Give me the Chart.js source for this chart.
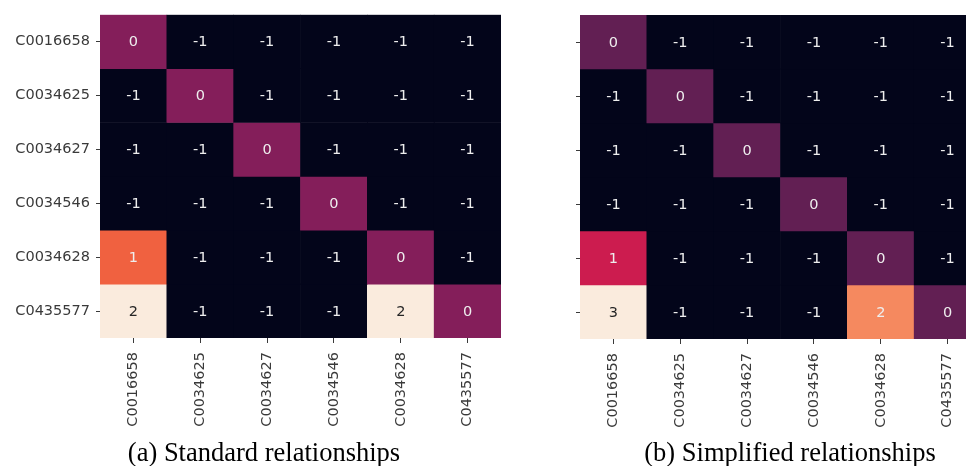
<!DOCTYPE html>
<html>
<head>
<meta charset="utf-8">
<script src="https://cdn.jsdelivr.net/npm/chart.js@4.4.1/dist/chart.umd.min.js"></script>
<style>
    html, body { margin: 0; padding: 0; background: #fff; overflow: hidden; width: 966px; height: 466px; }
    .panel   { position: absolute; top: 0; }
    .caption { position: absolute; top: 439px; width: 420px; text-align: center;
               font: 26.5px 'Liberation Serif', 'Times New Roman', serif; line-height: 27px; color: #000; }
</style>
</head>
<body>
<canvas id="chartA" class="panel" width="510" height="440" style="left:0px"></canvas>
<canvas id="chartB" class="panel" width="510" height="440" style="left:480px"></canvas>
<div class="caption" style="left:54px">(a) Standard relationships</div>
<div class="caption" style="left:580px">(b) Simplified relationships</div>

<script>
// DATA
const columnLabels = ['C0016658', 'C0034625', 'C0034627', 'C0034546', 'C0034628', 'C0435577'];
const rowLabels    = ['C0016658', 'C0034625', 'C0034627', 'C0034546', 'C0034628', 'C0435577'];

// (a) standard relationships, one array per row
const standardRows = [
    [ 0, -1, -1, -1, -1, -1],
    [-1,  0, -1, -1, -1, -1],
    [-1, -1,  0, -1, -1, -1],
    [-1, -1, -1,  0, -1, -1],
    [ 1, -1, -1, -1,  0, -1],
    [ 2, -1, -1, -1,  2,  0]
];

// (b) simplified relationships
const simplifiedRows = [
    [ 0, -1, -1, -1, -1, -1],
    [-1,  0, -1, -1, -1, -1],
    [-1, -1,  0, -1, -1, -1],
    [-1, -1, -1,  0, -1, -1],
    [ 1, -1, -1, -1,  0, -1],
    [ 3, -1, -1, -1,  2,  0]
];

// seaborn "rocket"-like colormap stops
const rocketStops = [
    [0.000, [3, 5, 26]],
    [0.125, [40, 18, 56]],
    [0.250, [98, 31, 83]],
    [0.333, [132, 30, 90]],
    [0.500, [204, 28, 79]],
    [0.667, [240, 97, 64]],
    [0.750, [245, 137, 95]],
    [1.000, [250, 235, 221]]
];

function rocket(t) {
    t = Math.max(0, Math.min(1, t));
    for (let i = 1; i < rocketStops.length; i++) {
        const [t1, c1] = rocketStops[i];
        const [t0, c0] = rocketStops[i - 1];
        if (t <= t1) {
            const f = (t - t0) / (t1 - t0);
            const c = c0.map((v, k) => Math.round(v + (c1[k] - v) * f));
            return { css: `rgb(${c[0]},${c[1]},${c[2]})`, lum: (0.299 * c[0] + 0.587 * c[1] + 0.114 * c[2]) / 255 };
        }
    }
    return { css: 'rgb(250,235,221)', lum: 0.93 };
}

const tickFont  = { family: "'DejaVu Sans', sans-serif", size: 14.5 };
const tickColor = '#3a3a3a';

// draws the number in the middle of every cell
const cellTextPlugin = {
    id: 'cellText',
    afterDatasetsDraw(chart) {
        const ctx = chart.ctx;
        ctx.save();
        ctx.font = "14.5px 'DejaVu Sans', sans-serif";
        ctx.textAlign = 'center';
        ctx.textBaseline = 'middle';
        chart.data.datasets.forEach((ds, i) => {
            const meta = chart.getDatasetMeta(i);
            meta.data.forEach((bar, j) => {
                ctx.fillStyle = ds.textColors[j];
                ctx.fillText(String(ds.values[j]), bar.x, (bar.y + bar.base) / 2 + 1);
            });
        });
        ctx.restore();
    }
};

function buildHeatmap(canvasId, matrix, showRowLabels, topPad) {
    const all  = matrix.flat();
    const vmin = Math.min(...all);
    const vmax = Math.max(...all);

    const datasets = matrix.map((row, r) => {
        const cols = row.map(v => rocket((v - vmin) / (vmax - vmin)));
        return {
            label: rowLabels[r],
            data: row.map(() => [r, r + 1]),
            values: row,
            backgroundColor: cols.map(c => c.css),
            textColors: cols.map(c => c.lum > 0.75 ? '#262626' : '#eeeeee'),
            borderWidth: 0,
            barPercentage: 1,
            categoryPercentage: 1,
            grouped: false
        };
    });

    return new Chart(document.getElementById(canvasId), {
        type: 'bar',
        data: { labels: columnLabels, datasets: datasets },
        options: {
            responsive: false,
            animation: false,
            devicePixelRatio: 1,
            layout: { padding: { top: topPad, right: 9, left: 0, bottom: 0 } },
            plugins: { legend: { display: false }, tooltip: { enabled: false } },
            scales: {
                x: {
                    type: 'category',
                    offset: true,
                    border: { display: false },
                    grid: { offset: false, drawOnChartArea: false, tickLength: 5, tickColor: tickColor },
                    ticks: { minRotation: 90, maxRotation: 90, padding: 9, color: tickColor, font: tickFont },
                    afterFit: s => { s.height = 102 - topPad + 14; }
                },
                y: {
                    type: 'linear',
                    min: 0,
                    max: rowLabels.length,
                    reverse: true,
                    border: { display: false },
                    grid: { drawOnChartArea: false, tickLength: 4, tickColor: tickColor },
                    afterBuildTicks: s => { s.ticks = rowLabels.map((_, i) => ({ value: i + 0.5 })); },
                    ticks: {
                        padding: 6,
                        color: tickColor,
                        font: tickFont,
                        callback: v => showRowLabels ? rowLabels[Math.floor(v)] : ''
                    },
                    afterFit: s => { s.width = 100; }
                }
            }
        },
        plugins: [cellTextPlugin]
    });
}

document.addEventListener('DOMContentLoaded', () => {
    buildHeatmap('chartA', standardRows, true, 14);
    buildHeatmap('chartB', simplifiedRows, false, 15);
});
</script>
</body>
</html>
